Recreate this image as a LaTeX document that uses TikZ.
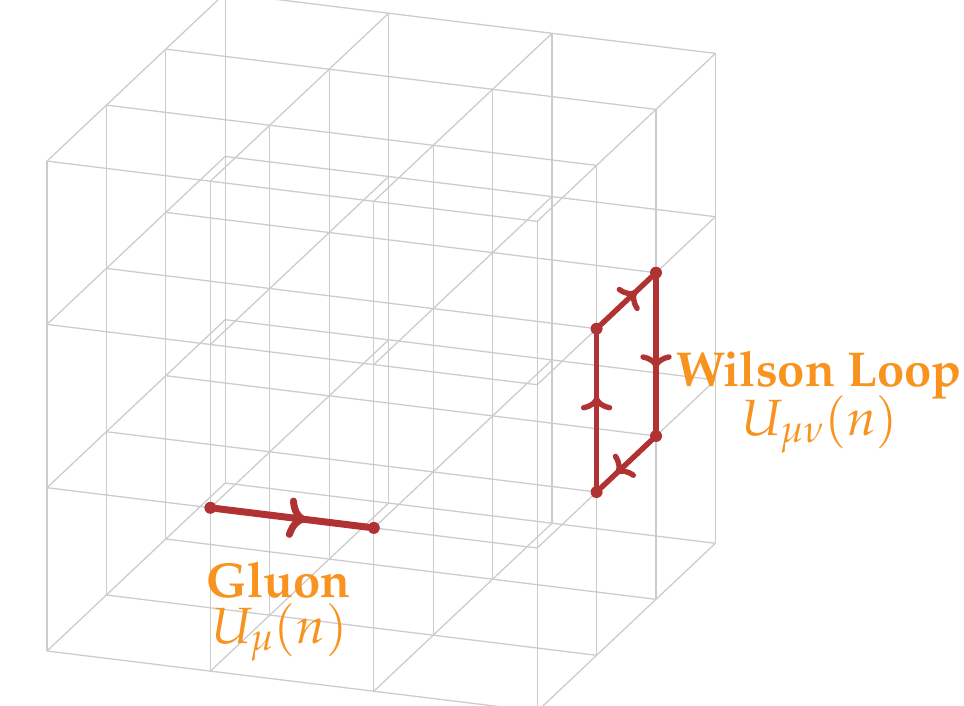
\documentclass[tikz,border=0pt]{standalone}
\usepackage{amsmath, amssymb}
\usepackage[T1]{fontenc}
\usepackage{mathpazo}
\usepackage{xcolor}
\usetikzlibrary{arrows.meta, decorations.markings}

\definecolor{linkred}{HTML}{B03232}
\definecolor{labelorange}{HTML}{F7931E}

\tikzset{
    gridline/.style={draw=black!20, line width=1.3pt},
    site/.style={circle, fill=linkred, inner sep=0pt, minimum size=12pt},
    link/.style={draw=linkred, line width=#1, line cap=round, postaction={decorate},
        decoration={markings, mark=at position 0.5 with {\arrow[xshift=14pt]{Computer Modern Rightarrow[length=0pt 2.6, width=0pt 5.8, line cap=round]}}}},
    link/.default=5.4pt,
    latticelabel/.style={text=labelorange, anchor=base west, inner sep=0pt},
}

\begin{document}
\begin{tikzpicture}[x=1pt, y=-1pt]
    % Khung ảnh, lưới bị cắt ở trên và dưới
    \clip (0,0) rectangle (964,705);
    \useasboundingbox (0,0) rectangle (964,705);

    % Các đỉnh của lưới 3 x 3 x 3
    \foreach \i in {0,...,3}
        \foreach \j in {0,...,3}
            \foreach \k in {0,...,3}
                \coordinate (p\i\j\k) at ({47+163.4*\i+59.4*\j}, {651+20.1*\i-56*\j-163.3*\k});

    % Các cạnh của lưới theo ba hướng
    \foreach \a in {0,...,3}
        \foreach \b in {0,...,3} {
            \draw[gridline] (p0\a\b) -- (p3\a\b);
            \draw[gridline] (p\a0\b) -- (p\a3\b);
            \draw[gridline] (p\a\b0) -- (p\a\b3);
        }

    % Gluon
    \node[site] (gluonA) at (p101) {};
    \node[site] (gluonB) at (p201) {};
    \draw[link=7pt] (gluonA) -- (gluonB);

    % Wilson loop
    \node[site] (loopA) at (p311) {};
    \node[site] (loopB) at (p312) {};
    \node[site] (loopC) at (p322) {};
    \node[site] (loopD) at (p321) {};
    \draw[link] (loopA) -- (loopB);
    \draw[link] (loopB) -- (loopC);
    \draw[link] (loopC) -- (loopD);
    \draw[link] (loopD) -- (loopA);

    % Nhãn
    \node[latticelabel, font=\fontsize{49}{49}\selectfont\bfseries] (wilsonname) at (676,386) {Wilson Loop};
    \node[latticelabel, font=\fontsize{51}{51}\selectfont] (wilsonsym) at (741,435) {$U_{\mu\nu}(n)$};
    \node[latticelabel, font=\fontsize{49}{49}\selectfont\bfseries] (gluonname) at (206,597) {Gluon};
    \node[latticelabel, font=\fontsize{51}{51}\selectfont] (gluonsym) at (211,643) {$U_{\mu}(n)$};
\end{tikzpicture}
\end{document}
